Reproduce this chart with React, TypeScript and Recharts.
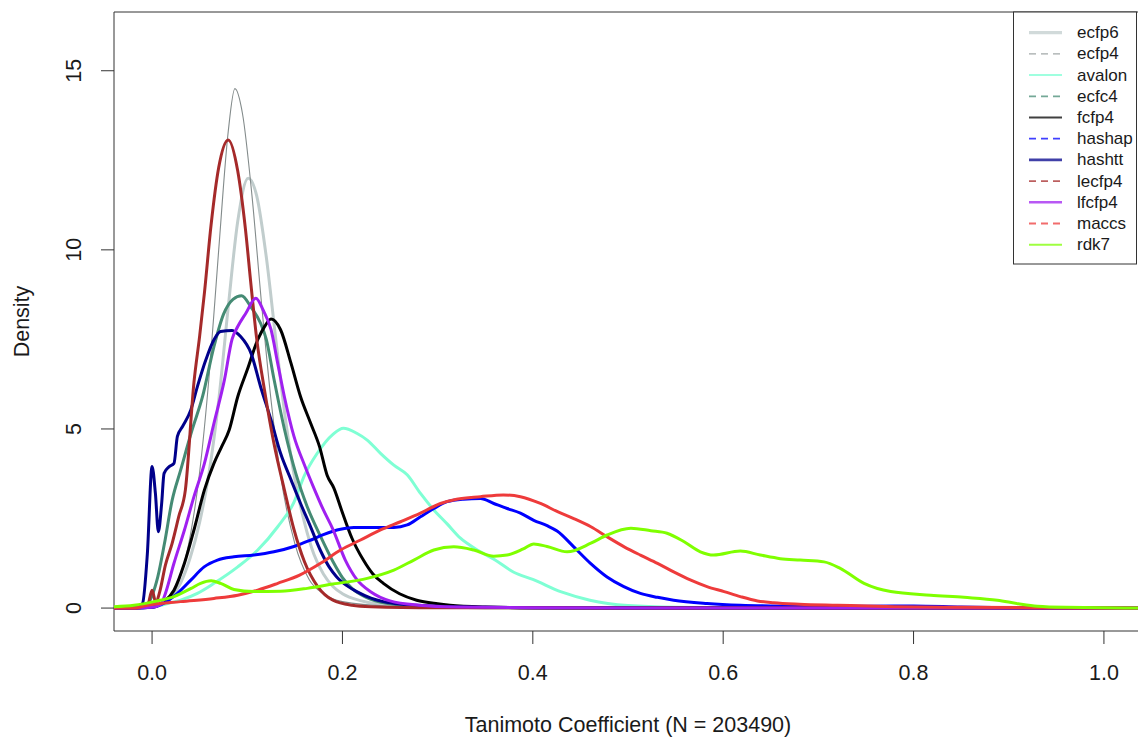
import React from 'react';
import { LineChart, Line, XAxis, YAxis, ReferenceArea } from 'recharts';

type Pt = [number, number];

const xTicks = [0, 0.2, 0.4, 0.6, 0.8, 1.0];
const yTicks = [0, 5, 10, 15];
const xTitle = 'Tanimoto Coefficient (N = 203490)';
const yTitle = 'Density';

const ecfp6: Pt[] = [
  [-0.04, 0], [-0.01, 0], [0.01, 0.1], [0.02, 0.3], [0.03, 0.7], [0.04, 1.4], [0.05, 2.4], [0.06, 3.8],
  [0.07, 5.8], [0.08, 8.4], [0.09, 10.8], [0.101, 12.0], [0.11, 11.5], [0.12, 9.8], [0.13, 7.5],
  [0.14, 5.3], [0.15, 3.6], [0.16, 2.4], [0.17, 1.5], [0.18, 0.95], [0.19, 0.6], [0.2, 0.4],
  [0.22, 0.2], [0.25, 0.08], [0.3, 0.03], [0.4, 0.01], [0.6, 0], [1.04, 0],
];
const ecfp4: Pt[] = [
  [-0.04, 0], [-0.01, 0], [0.0, 0.02], [0.02, 0.3], [0.03, 0.9], [0.04, 2.0], [0.05, 3.8], [0.06, 6.5],
  [0.07, 10.0], [0.08, 13.3], [0.087, 14.5], [0.095, 13.8], [0.105, 11.5], [0.115, 8.5], [0.125, 5.8],
  [0.135, 3.7], [0.15, 1.8], [0.165, 0.8], [0.18, 0.4], [0.2, 0.18], [0.25, 0.05], [0.3, 0.02],
  [0.4, 0], [1.04, 0],
];
const avalon: Pt[] = [
  [-0.04, 0], [-0.02, 0], [0.0, 0.03], [0.0126, 0.1], [0.03, 0.22], [0.0476, 0.41], [0.065, 0.69],
  [0.09, 1.15], [0.111, 1.62], [0.132, 2.27], [0.149, 2.95], [0.16, 3.7], [0.173, 4.3], [0.19, 4.85],
  [0.201, 5.02], [0.215, 4.88], [0.226, 4.69], [0.24, 4.32], [0.254, 3.99], [0.268, 3.72],
  [0.282, 3.2], [0.296, 2.74], [0.31, 2.35], [0.324, 1.95], [0.34, 1.65], [0.36, 1.35], [0.38, 1.0],
  [0.4, 0.8], [0.43, 0.45], [0.46, 0.22], [0.5, 0.07], [0.55, 0.02], [0.65, 0], [1.04, 0],
];
const ecfc4: Pt[] = [
  [-0.04, 0], [-0.02, 0], [-0.005, 0.1], [0.0, 0.35], [0.006, 0.87], [0.013, 1.8], [0.021, 3.0],
  [0.03, 3.85], [0.042, 4.97], [0.053, 5.9], [0.065, 7.3], [0.075, 8.2], [0.085, 8.62], [0.094, 8.72],
  [0.104, 8.4], [0.114, 7.95], [0.12, 7.5], [0.128, 6.4], [0.139, 5.0], [0.151, 3.76], [0.163, 2.83],
  [0.177, 2.0], [0.19, 1.3], [0.2, 0.85], [0.21, 0.55], [0.225, 0.3], [0.25, 0.12], [0.28, 0.05],
  [0.35, 0.01], [0.5, 0], [1.04, 0],
];
const fcfp4: Pt[] = [
  [-0.04, 0], [-0.02, 0], [0.0, 0.02], [0.0126, 0.18], [0.023, 0.5], [0.034, 1.25], [0.044, 2.18],
  [0.055, 3.3], [0.065, 4.04], [0.073, 4.5], [0.081, 4.97], [0.09, 5.9], [0.1, 6.65], [0.111, 7.49],
  [0.118, 7.85], [0.125, 8.07], [0.135, 7.77], [0.146, 6.83], [0.156, 5.9], [0.166, 5.2], [0.176, 4.5],
  [0.184, 3.7], [0.191, 3.35], [0.199, 2.74], [0.21, 1.95], [0.222, 1.34], [0.232, 0.95], [0.243, 0.69],
  [0.26, 0.4], [0.278, 0.22], [0.3, 0.12], [0.313, 0.08], [0.35, 0.03], [0.4, 0.01], [0.6, 0], [1.04, 0],
];
const hashap: Pt[] = [
  [-0.04, 0], [-0.02, 0], [0.0, 0.02], [0.01, 0.1], [0.0266, 0.41], [0.0407, 0.78], [0.0547, 1.15],
  [0.0687, 1.34], [0.086, 1.43], [0.107, 1.48], [0.128, 1.57], [0.149, 1.72], [0.165, 1.88],
  [0.18, 2.05], [0.198, 2.2], [0.212, 2.25], [0.233, 2.25], [0.254, 2.25], [0.268, 2.32], [0.282, 2.55],
  [0.296, 2.78], [0.31, 2.97], [0.327, 3.04], [0.345, 3.06], [0.359, 2.92], [0.373, 2.78], [0.387, 2.65],
  [0.401, 2.45], [0.415, 2.3], [0.4255, 2.15], [0.443, 1.71], [0.4606, 1.25], [0.478, 0.87],
  [0.4956, 0.6], [0.513, 0.41], [0.531, 0.3], [0.548, 0.22], [0.583, 0.13], [0.618, 0.08], [0.65, 0.06],
  [0.7, 0.05], [0.75, 0.05], [0.8, 0.06], [0.85, 0.03], [0.9, 0.01], [0.95, 0], [1.04, 0],
];
const hashtt: Pt[] = [
  [-0.04, 0], [-0.015, 0.02], [-0.01, 0.13], [-0.005, 1.5], [0.0, 3.95], [0.0035, 3.2], [0.0066, 2.13],
  [0.01, 2.9], [0.0126, 3.76], [0.018, 3.95], [0.023, 4.04], [0.0266, 4.79], [0.032, 5.07],
  [0.0407, 5.53], [0.0476, 6.18], [0.0565, 6.93], [0.065, 7.49], [0.072, 7.72], [0.084, 7.75],
  [0.093, 7.58], [0.104, 7.11], [0.114, 6.18], [0.125, 5.25], [0.135, 4.32], [0.146, 3.58],
  [0.156, 2.92], [0.166, 2.3], [0.177, 1.6], [0.186, 1.15], [0.194, 0.87], [0.205, 0.62], [0.215, 0.46],
  [0.23, 0.28], [0.243, 0.18], [0.26, 0.11], [0.278, 0.08], [0.3, 0.05], [0.35, 0.02], [0.4, 0.01],
  [0.6, 0], [1.04, 0],
];
const lecfp4: Pt[] = [
  [-0.04, 0], [-0.02, 0], [-0.005, 0.05], [0.0, 0.5], [0.004, 0.15], [0.008, 0.45], [0.014, 1.2],
  [0.021, 1.8], [0.028, 2.55], [0.035, 3.3], [0.044, 6.3], [0.05, 7.6], [0.055, 8.8], [0.062, 10.7],
  [0.07, 12.3], [0.08, 13.07], [0.09, 12.2], [0.098, 10.6], [0.104, 9.0], [0.11, 7.5], [0.118, 6.1],
  [0.128, 4.6], [0.139, 3.3], [0.149, 2.2], [0.16, 1.3], [0.174, 0.6], [0.19, 0.22], [0.21, 0.08],
  [0.23, 0.04], [0.3, 0.01], [0.5, 0], [1.04, 0],
];
const lfcfp4: Pt[] = [
  [-0.04, 0], [-0.02, 0], [0.0, 0.02], [0.009, 0.1], [0.014, 0.41], [0.023, 1.25], [0.034, 2.18],
  [0.044, 3.11], [0.055, 4.04], [0.065, 5.16], [0.076, 6.37], [0.084, 7.5], [0.09, 7.86],
  [0.0985, 8.23], [0.109, 8.65], [0.117, 8.3], [0.125, 7.77], [0.132, 6.83], [0.139, 5.9], [0.149, 4.8],
  [0.16, 4.0], [0.17, 3.35], [0.18, 2.74], [0.19, 2.2], [0.203, 1.34], [0.215, 0.8], [0.23, 0.45],
  [0.25, 0.2], [0.28, 0.08], [0.32, 0.03], [0.4, 0.01], [0.6, 0], [1.04, 0],
];
const maccs: Pt[] = [
  [-0.04, 0], [-0.02, 0], [-0.005, 0.08], [0.03, 0.18], [0.065, 0.27], [0.09, 0.36], [0.111, 0.5],
  [0.132, 0.69], [0.155, 0.92], [0.177, 1.25], [0.198, 1.62], [0.219, 1.9], [0.24, 2.18], [0.261, 2.41],
  [0.282, 2.65], [0.303, 2.92], [0.32, 3.04], [0.345, 3.11], [0.369, 3.16], [0.387, 3.11], [0.408, 2.92],
  [0.426, 2.69], [0.443, 2.5], [0.461, 2.27], [0.478, 1.99], [0.496, 1.71], [0.513, 1.48], [0.531, 1.25],
  [0.548, 1.01], [0.566, 0.78], [0.583, 0.6], [0.601, 0.46], [0.618, 0.32], [0.636, 0.2], [0.653, 0.15],
  [0.68, 0.11], [0.72, 0.08], [0.78, 0.04], [0.85, 0.02], [0.95, 0.01], [1.02, 0], [1.04, 0],
];
const rdk7: Pt[] = [
  [-0.04, 0.04], [-0.019, 0.08], [0.002, 0.18], [0.023, 0.32], [0.041, 0.55], [0.051, 0.69],
  [0.062, 0.76], [0.072, 0.69], [0.086, 0.52], [0.107, 0.46], [0.135, 0.47], [0.163, 0.55], [0.19, 0.67],
  [0.226, 0.83], [0.254, 1.06], [0.275, 1.34], [0.296, 1.62], [0.317, 1.71], [0.338, 1.62], [0.359, 1.45],
  [0.373, 1.48], [0.39, 1.65], [0.401, 1.79], [0.415, 1.72], [0.436, 1.57], [0.461, 1.81], [0.478, 2.04],
  [0.503, 2.23], [0.524, 2.16], [0.541, 2.09], [0.559, 1.85], [0.576, 1.57], [0.59, 1.48], [0.618, 1.59],
  [0.639, 1.48], [0.66, 1.38], [0.681, 1.34], [0.706, 1.29], [0.723, 1.11], [0.748, 0.69], [0.776, 0.46],
  [0.818, 0.36], [0.853, 0.3], [0.888, 0.22], [0.91, 0.12], [0.93, 0.05], [0.96, 0.02], [1.0, 0.01],
  [1.04, 0],
];

type Series = {
  name: string;
  points: Pt[];
  color: string;
  width: number;
  legendDash?: string;
  legendWidth: number;
};

const series: Series[] = [
  { name: 'ecfp6', points: ecfp6, color: '#c1cdcd', width: 3, legendWidth: 3.2 },
  { name: 'ecfp4', points: ecfp4, color: '#838b8b', width: 1.1, legendDash: '7 5', legendWidth: 1.2 },
  { name: 'avalon', points: avalon, color: '#7fffd4', width: 3, legendWidth: 2 },
  { name: 'ecfc4', points: ecfc4, color: '#458b74', width: 3, legendDash: '7 5', legendWidth: 1.8 },
  { name: 'fcfp4', points: fcfp4, color: '#000000', width: 3, legendWidth: 1.8 },
  { name: 'hashap', points: hashap, color: '#0000ff', width: 3, legendDash: '7 5', legendWidth: 1.8 },
  { name: 'hashtt', points: hashtt, color: '#00008b', width: 3, legendWidth: 2.6 },
  { name: 'lecfp4', points: lecfp4, color: '#a52a2a', width: 3, legendDash: '7 5', legendWidth: 1.8 },
  { name: 'lfcfp4', points: lfcfp4, color: '#a020f0', width: 3, legendWidth: 2.6 },
  { name: 'maccs', points: maccs, color: '#ee3b3b', width: 3, legendDash: '7 5', legendWidth: 1.8 },
  { name: 'rdk7', points: rdk7, color: '#7fff00', width: 3, legendWidth: 2 },
];

const FONT = '"Liberation Sans", Arial, Helvetica, sans-serif';
const AXIS = '#333333';
const TEXT = '#1a1a1a';

const XTick = (props: any) => {
  const { x, y, payload } = props;
  return (
    <text x={x} y={y + 36} textAnchor="middle" fontSize={21.5} fontFamily={FONT} fill={TEXT}>
      {Number(payload.value).toFixed(1)}
    </text>
  );
};

const YTick = (props: any) => {
  const { x, y, payload } = props;
  const bx = x - 19.5;
  return (
    <text x={bx} y={y} textAnchor="middle" fontSize={21.5} fontFamily={FONT} fill={TEXT}
      transform={`rotate(-90, ${bx}, ${y})`}>
      {String(payload.value)}
    </text>
  );
};

export default function App() {
  const toData = (p: Pt[]) => p.map(([x, y]) => ({ x, y }));
  return (
    <div style={{ position: 'absolute', left: 0, top: 0, width: 1138, height: 739, overflow: 'hidden', background: '#fff' }}>
      <LineChart width={1146} height={739} margin={{ top: 12, right: 4, bottom: 0, left: 0 }}>
        <XAxis type="number" dataKey="x" domain={[-0.04, 1.04]} allowDataOverflow ticks={xTicks}
          tickSize={13} tickMargin={0} axisLine={false} tickLine={{ stroke: AXIS }} tick={<XTick />}
          height={108} interval={0} />
        <YAxis type="number" dataKey="y" domain={[-0.64, 16.64]} allowDataOverflow ticks={yTicks}
          tickSize={13} tickMargin={0} axisLine={false} tickLine={{ stroke: AXIS }} tick={<YTick />}
          width={114} interval={0} />
        <ReferenceArea x1={-0.04} x2={1.04} y1={-0.64} y2={16.64} fill="none" stroke={AXIS}
          strokeWidth={1} ifOverflow="visible" />
        {series.map((s) => (
          <Line key={s.name} data={toData(s.points)} dataKey="y" type="monotone" stroke={s.color}
            strokeWidth={s.width} dot={false} activeDot={false} isAnimationActive={false} />
        ))}
      </LineChart>
      <svg width={1138} height={739} style={{ position: 'absolute', left: 0, top: 0, pointerEvents: 'none' }}>
        <text x={628} y={732} textAnchor="middle" fontSize={21.5} fontFamily={FONT} fill={TEXT}>{xTitle}</text>
        <text x={29} y={321.5} textAnchor="middle" fontSize={21.5} fontFamily={FONT} fill={TEXT}
          transform="rotate(-90, 29, 321.5)">{yTitle}</text>
        <rect x={1013.5} y={12} width={123} height={252} fill="#fff" stroke={AXIS} strokeWidth={1} />
        {series.map((s, i) => {
          const ly = 32.7 + i * 21.2;
          return (
            <g key={s.name}>
              <line x1={1029} x2={1062} y1={ly} y2={ly} stroke={s.color} strokeWidth={s.legendWidth}
                strokeDasharray={s.legendDash} strokeOpacity={0.75} />
              <text x={1077} y={ly + 5.5} fontSize={17} fontFamily={FONT} fill={TEXT}>{s.name}</text>
            </g>
          );
        })}
      </svg>
    </div>
  );
}
